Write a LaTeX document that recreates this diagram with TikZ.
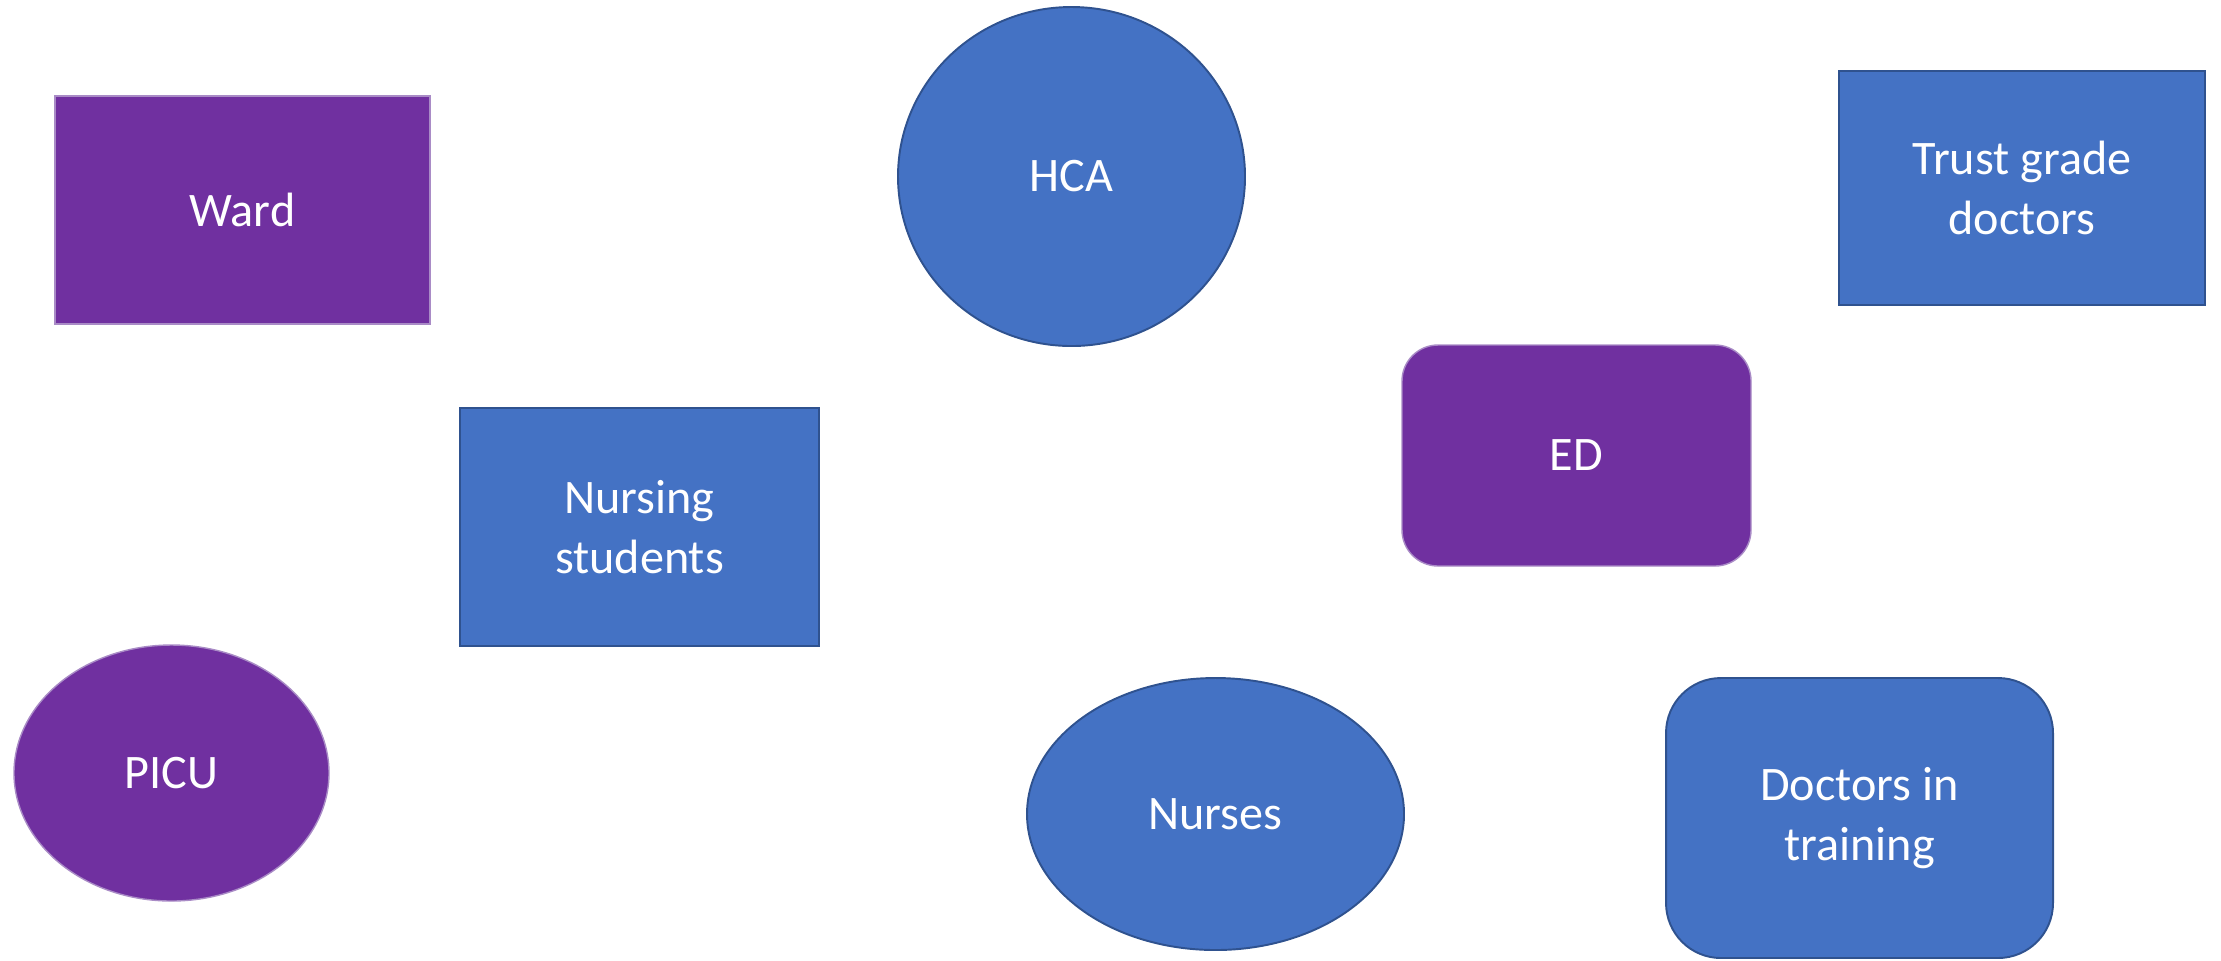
\documentclass[tikz,border=0pt]{standalone}
\usepackage{fontspec}
\setmainfont{Carlito}
\usepackage{tikz}
\usepackage{xcolor}
\usetikzlibrary{shapes.geometric}

\definecolor{staffblue}{HTML}{4472C4}
\definecolor{staffedge}{HTML}{2F528F}
\definecolor{placepurple}{HTML}{7030A0}
\definecolor{placeedge}{HTML}{A98BC6}

\tikzset{
  label text/.style={text=white, font=\fontsize{13.7}{16.9}\selectfont, align=center, inner sep=0pt},
  staff/.style={label text, fill=staffblue, draw=staffedge, line width=0.55pt},
  place/.style={label text, fill=placepurple, draw=placeedge, line width=0.4pt}
}

\begin{document}
\begin{tikzpicture}
        \useasboundingbox (0,0) rectangle (22.21,-9.6);

        % Places
        \node[place, rectangle, minimum width=3.75cm, minimum height=2.28cm] (ward) at (2.425,-2.10) {Ward};
        \node[place, rectangle, rounded corners=0.36cm, minimum width=3.49cm, minimum height=2.21cm] (ed) at (15.765,-4.555) {ED};
        \node[place, ellipse, minimum width=3.15cm, minimum height=2.56cm] (picu) at (1.715,-7.73) {PICU};

        % Staff groups
        \node[staff, ellipse, minimum width=3.47cm, minimum height=3.39cm] (hca) at (10.715,-1.765) {HCA};
        \node[staff, rectangle, minimum width=3.66cm, minimum height=2.34cm] (trust) at (20.22,-1.88) {Trust grade\\doctors};
        \node[staff, rectangle, minimum width=3.59cm, minimum height=2.38cm] (students) at (6.395,-5.27) {Nursing\\students};
        \node[staff, ellipse, minimum width=3.77cm, minimum height=2.72cm] (nurses) at (12.155,-8.14) {Nurses};
        \node[staff, rectangle, rounded corners=0.55cm, minimum width=3.87cm, minimum height=2.80cm] (training) at (18.595,-8.18) {Doctors in\\training};
    \end{tikzpicture}
\end{document}
